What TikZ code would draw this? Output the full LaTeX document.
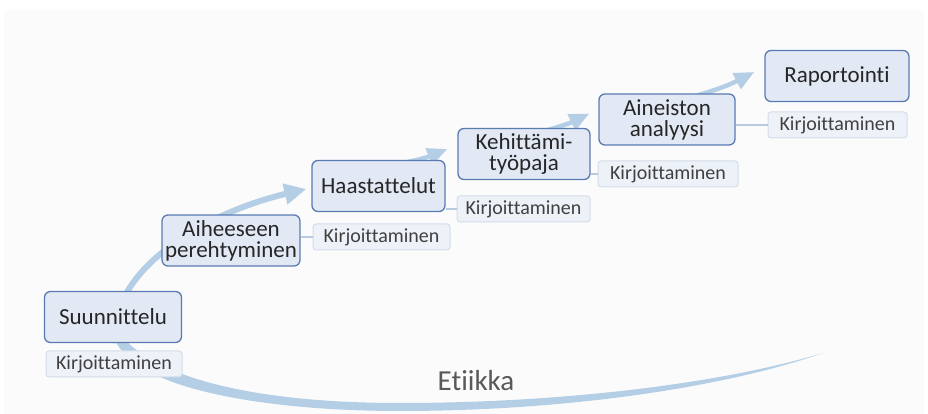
\documentclass[tikz,border=0pt]{standalone}
\usepackage{fontspec}
\setmainfont{Carlito}[Ligatures=NoCommon]
\usetikzlibrary{arrows.meta,backgrounds}

\definecolor{boxfill}{HTML}{E2E8F4}
\definecolor{boxline}{HTML}{5A7BB2}
\definecolor{tagfill}{HTML}{EDF1F8}
\definecolor{tagline}{HTML}{D4DCE9}
\definecolor{swooshblue}{HTML}{B4CEE5}
\definecolor{linkblue}{HTML}{B9C9DE}
\definecolor{pagegray}{HTML}{FBFBFC}

\tikzset{
  phase/.style={draw=boxline,line width=1.3pt,fill=boxfill,rounded corners=6pt,
    minimum width=134pt,minimum height=51pt,inner xsep=3pt,align=center,
    font=\fontsize{23}{21}\selectfont,text=black!85},
  writing/.style={draw=tagline,line width=1pt,fill=tagfill,rounded corners=3pt,
    minimum width=137pt,minimum height=26pt,inner sep=2pt,
    font=\fontsize{20}{21}\selectfont,text=black!75},
  link/.style={linkblue,line width=1.5pt},
  steparrow/.style={swooshblue,line width=4.5pt,-{Triangle[length=20pt,width=17pt]}}
}

\begin{document}
\begin{tikzpicture}[x=1pt,y=1pt]
  \useasboundingbox (0,0) rectangle (928,414);

  % phases
  \node[phase,minimum width=137pt] (sun) at (113,97) {Suunnittelu};
  \node[phase,minimum width=136pt] (aih) at (231,173.5) {Aiheeseen\\perehtyminen};
  \node[phase,minimum width=133pt] (hst) at (378.5,228) {Haastattelut};
  \node[phase,minimum width=132pt] (keh) at (524,260) {Kehittämi-\\työpaja};
  \node[phase,minimum width=136pt] (ain) at (667,294.5) {Aineiston\\analyysi};
  \node[phase,minimum width=144pt] (rap) at (837,338) {Raportointi};

  % writing tags
  \node[writing,minimum width=136pt] (sunk) at (114,50) {Kirjoittaminen};
  \node[writing] (aihk) at (381.5,177) {Kirjoittaminen};
  \node[writing,minimum width=133pt] (hstk) at (523.5,205) {Kirjoittaminen};
  \node[writing,minimum width=140pt] (kehk) at (668,240) {Kirjoittaminen};
  \node[writing,minimum width=139pt] (aink) at (837.5,289) {Kirjoittaminen};

  \draw[link] (aih.east |- aihk.west) -- (aihk.west);
  \draw[link] (hst.east |- hstk.west) -- (hstk.west);
  \draw[link] (keh.east |- kehk.west) -- (kehk.west);
  \draw[link] (ain.east |- aink.west) -- (aink.west);

  \node[font=\fontsize{29}{32}\selectfont,text=black!65] (eti) at (476,33) {Etiikka};

  \begin{scope}[on background layer]
    \fill[pagegray] (4,0) rectangle (924,404);
    % ethics swoosh
    \fill[swooshblue] (823,61) .. controls (720,25) and (560,3) .. (400,3)
      .. controls (280,3) and (190,20) .. (150,42)
      .. controls (125,56) and (112,70) .. (111,90) -- (119,90)
      .. controls (120,76) and (131,66) .. (155,52)
      .. controls (200,28) and (280,11) .. (400,11)
      .. controls (560,11) and (720,30) .. (823,61) -- cycle;
    \draw[swooshblue,line width=6pt,-{Triangle[length=22pt,width=20pt]}]
      ([xshift=3pt]sun.south) .. controls (106,140) and (200,200) .. ([xshift=-5pt,yshift=-3pt]hst.west);
    \draw[steparrow] ([xshift=15pt,yshift=-5pt]hst.north) to[bend right=6] ([xshift=-10pt,yshift=5pt]keh.west);
    \draw[steparrow] ([xshift=13pt,yshift=-5pt]keh.north) to[bend right=6] ([xshift=-9pt,yshift=6pt]ain.west);
    \draw[steparrow] ([xshift=20pt,yshift=-5pt]ain.north) to[bend right=6] ([xshift=-10pt,yshift=4pt]rap.west);
  \end{scope}
\end{tikzpicture}
\end{document}
